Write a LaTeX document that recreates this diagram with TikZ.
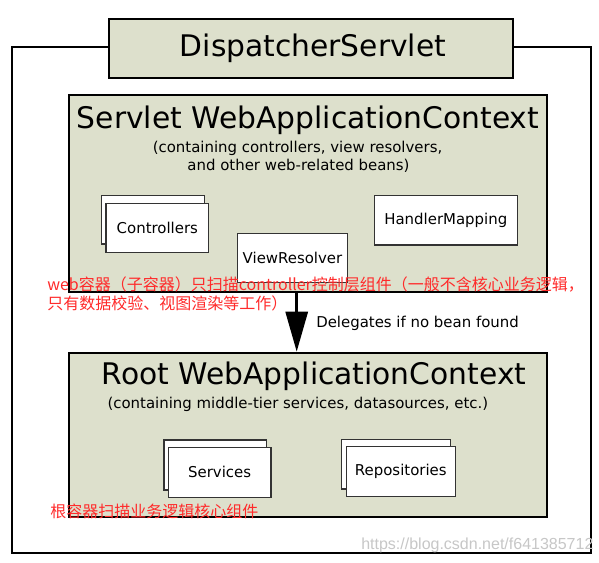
\documentclass[tikz,border=0pt]{standalone}
\usepackage{fontspec}
\setmainfont{DejaVu Sans}
\newfontfamily\cjkfont{Noto Sans CJK SC}
\newfontfamily\wmfont{Liberation Sans}
\usetikzlibrary{arrows.meta}
\definecolor{boxgreen}{HTML}{DDE0CC}
\definecolor{notered}{HTML}{FF2A2A}
\newdimen\pxu
\pxu=0.75pt
\begin{document}
\begin{tikzpicture}[x=0.75pt, y=-0.75pt,
  frame/.style={draw=black, line width=1.5pt, inner sep=0pt},
  ctx/.style={draw=black, line width=1.5pt, fill=boxgreen, inner sep=0pt},
  bean/.style={draw=black!80, line width=1pt, fill=white, inner sep=0pt, font=\fontsize{11.2pt}{13pt}\selectfont},
  titletext/.style={inner sep=0pt, font=\fontsize{22.3pt}{26pt}\selectfont},
  subtext/.style={inner sep=0pt, font=\fontsize{11.2pt}{13pt}\selectfont},
  notetext/.style={inner sep=0pt, text=notered, font=\cjkfont\fontsize{12pt}{14pt}\selectfont},
  delegate/.style={line width=2.25pt, -{Triangle[length=30pt, width=16.5pt]}}
]
\useasboundingbox (0,0) rectangle (599,563);
\fill[white] (0,0) rectangle (599,563);

% outer DispatcherServlet frame
\node[frame, minimum width=579\pxu, minimum height=505.5\pxu] (outer) at (301,299.75) {};
\node[ctx, minimum width=404\pxu, minimum height=59\pxu, titletext, inner sep=0pt] (disp) at (310.5,48.5) {};
\node[titletext] (disptext) at (313,48.2) {DispatcherServlet};

% Servlet WebApplicationContext
\node[ctx, minimum width=478.2\pxu, minimum height=197\pxu] (servlet) at (307.6,193.5) {};
\node[titletext, anchor=base west] (servlettitle) at (76.7,129) {Servlet WebApplicationContext};
\node[subtext, anchor=base] (servletsubA) at (297.5,152) {(containing controllers, view resolvers,};
\node[subtext, anchor=base] (servletsubB) at (298.5,171) {and other web-related beans)};

\node[bean, minimum width=102.6\pxu, minimum height=48.3\pxu] (ctrlback) at (153,219.85) {};
\node[bean, minimum width=102.7\pxu, minimum height=49.4\pxu] (ctrl) at (157.35,228) {Controllers};
\node[bean, minimum width=109.6\pxu, minimum height=49.4\pxu] (view) at (292.5,258) {ViewResolver};
\node[bean, minimum width=143\pxu, minimum height=49.3\pxu] (handler) at (445.8,220.35) {HandlerMapping};

% Root WebApplicationContext
\node[ctx, minimum width=478.7\pxu, minimum height=164.6\pxu] (root) at (307.85,435) {};
\node[titletext, anchor=base west] (roottitle) at (101.7,384) {Root WebApplicationContext};
\node[subtext, anchor=base west] (rootsub) at (107.3,408.5) {(containing middle-tier services, datasources, etc.)};

\node[bean, minimum width=102.7\pxu, minimum height=50\pxu] (servback) at (215.35,465) {};
\node[bean, minimum width=102.7\pxu, minimum height=50\pxu] (serv) at (219.65,472.3) {Services};
\node[bean, minimum width=109\pxu, minimum height=49.7\pxu] (repoback) at (396.2,464.15) {};
\node[bean, minimum width=109\pxu, minimum height=50\pxu] (repo) at (400.8,471.7) {Repositories};

% delegation arrow
\coordinate (ax) at (296.7,0);
\draw[delegate] (servlet.south -| ax) -- (root.north -| ax);
\node[subtext, anchor=base west] (delegatelabel) at (316,327.7) {Delegates if no bean found};

% red annotations
\node[notetext, anchor=base west] (noteA) at (47,290) {web容器（子容器）只扫描controller控制层组件（一般不含核心业务逻辑，};
\node[notetext, anchor=base west] (noteB) at (47,309.5) {只有数据校验、视图渲染等工作）};
\node[notetext, anchor=base west] (noteC) at (50,517.7) {根容器扫描业务逻辑核心组件};

% watermark
\node[inner sep=0pt, anchor=base west, text=black!22, font=\wmfont\fontsize{12pt}{14pt}\selectfont] (wm) at (361,549) {https://blog.csdn.net/f641385712};
\end{tikzpicture}
\end{document}
